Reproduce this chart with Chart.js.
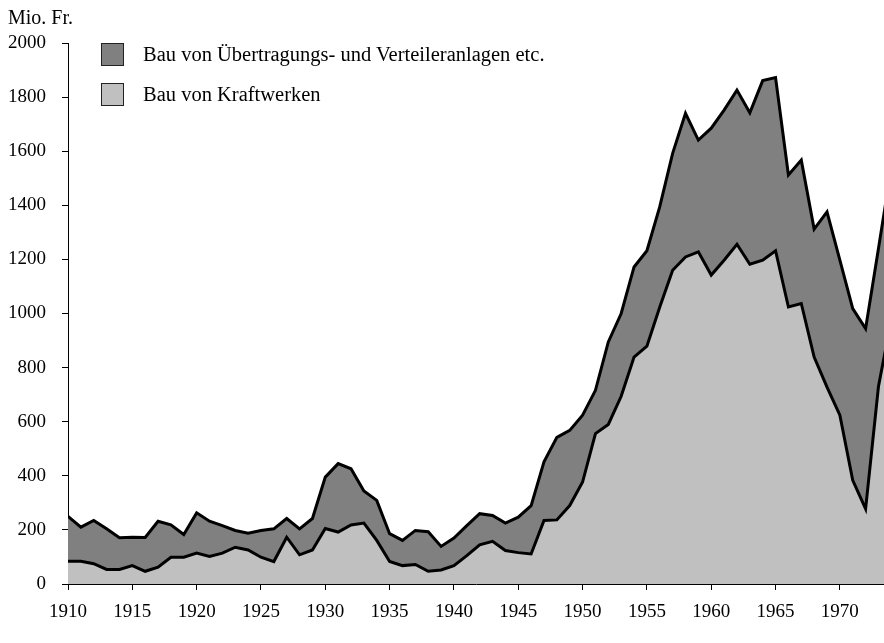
<!DOCTYPE html>
<html lang="de">
<head>
    <meta charset="UTF-8">
    <title>Bauinvestitionen Elektrizitätswirtschaft</title>
    <style>
        body {
            margin: 0;
            background: #fff;
        }
        #wrap {
            position: relative;
            width: 884px;
            height: 643px;
            font-family: 'Liberation Serif', serif;
            color: #000;
        }
        #unit {
            position: absolute;
            left: 8px;
            top: 6px;
            font-size: 20px;
            line-height: 22px;
        }
        .legend {
            position: absolute;
            left: 101px;
            display: flex;
            align-items: center;
            font-size: 20.5px;
            line-height: 23px;
            white-space: nowrap;
        }
        .legend .box {
            width: 21px;
            height: 21px;
            border: 1px solid #222;
            margin-right: 19px;
        }
    </style>
    <script src="https://cdn.jsdelivr.net/npm/chart.js"></script>
</head>
<body>
    <div id="wrap">
        <canvas id="chart" width="884" height="643"></canvas>
        <div id="unit">Mio. Fr.</div>
        <div class="legend" style="top: 43px;"><span class="box" style="background: #808080;"></span>Bau von Übertragungs- und Verteileranlagen etc.</div>
        <div class="legend" style="top: 83px;"><span class="box" style="background: #c0c0c0;"></span>Bau von Kraftwerken</div>
    </div>

    <script>
        const years = [
            1910, 1911, 1912, 1913, 1914, 1915, 1916, 1917, 1918, 1919,
            1920, 1921, 1922, 1923, 1924, 1925, 1926, 1927, 1928, 1929,
            1930, 1931, 1932, 1933, 1934, 1935, 1936, 1937, 1938, 1939,
            1940, 1941, 1942, 1943, 1944, 1945, 1946, 1947, 1948, 1949,
            1950, 1951, 1952, 1953, 1954, 1955, 1956, 1957, 1958, 1959,
            1960, 1961, 1962, 1963, 1964, 1965, 1966, 1967, 1968, 1969,
            1970, 1971, 1972, 1973, 1974
        ];

        // Bau von Kraftwerken (Mio. Fr.)
        const kraftwerke = [
            84, 84, 75, 54, 54, 68, 47, 62, 99, 99,
            114, 102, 114, 136, 126, 99, 83, 173, 108, 126,
            205, 192, 218, 225, 161, 83, 68, 72, 47, 52,
            68, 105, 145, 158, 124, 116, 111, 235, 237, 290,
            377, 556, 590, 694, 839, 879, 1024, 1160, 1209, 1228,
            1142, 1197, 1256, 1182, 1197, 1232, 1024, 1037, 839, 728,
            624, 383, 278, 730, 980
        ];

        // Bau von Übertragungs- und Verteileranlagen etc. (Mio. Fr.)
        const uebertragung = [
            166, 126, 160, 150, 117, 105, 125, 170, 120, 84,
            149, 130, 102, 62, 62, 99, 121, 69, 96, 116,
            190, 253, 208, 119, 148, 103, 93, 126, 146, 87,
            102, 111, 115, 95, 101, 131, 179, 217, 305, 278,
            247, 160, 305, 306, 333, 353, 371, 432, 531, 413,
            543, 555, 570, 560, 664, 640, 488, 530, 473, 648,
            573, 635, 666, 510, 560
        ];

        function toPoints(values) {
            return years.map((year, i) => ({ x: year, y: values[i] }));
        }

        Chart.defaults.font.family = "'Liberation Serif', serif";
        Chart.defaults.font.size = 19;
        Chart.defaults.color = '#000';

        const axisGrid = {
            drawOnChartArea: false,
            drawTicks: true,
            tickLength: 6,
            color: '#000',
            lineWidth: 1
        };

        new Chart(document.getElementById('chart'), {
            type: 'line',
            data: {
                datasets: [
                    {
                        label: 'Bau von Kraftwerken',
                        data: toPoints(kraftwerke),
                        backgroundColor: '#c0c0c0',
                        borderColor: '#000',
                        borderWidth: 3,
                        borderJoinStyle: 'miter',
                        pointRadius: 0,
                        fill: 'origin'
                    },
                    {
                        label: 'Bau von Übertragungs- und Verteileranlagen etc.',
                        data: toPoints(uebertragung),
                        backgroundColor: '#808080',
                        borderColor: '#000',
                        borderWidth: 3,
                        borderJoinStyle: 'miter',
                        pointRadius: 0,
                        fill: '-1'
                    }
                ]
            },
            options: {
                responsive: false,
                animation: false,
                devicePixelRatio: 1,
                layout: {
                    padding: { top: 43, right: 0, bottom: 0, left: 0 }
                },
                plugins: {
                    legend: { display: false },
                    tooltip: { enabled: false }
                },
                scales: {
                    x: {
                        type: 'linear',
                        min: 1910,
                        max: 1973.43,
                        grid: axisGrid,
                        border: { display: true, color: '#000', width: 1 },
                        ticks: {
                            stepSize: 5,
                            includeBounds: false,
                            padding: 11,
                            maxRotation: 0,
                            callback: v => String(v)
                        },
                        afterFit: scale => { scale.height = 59; }
                    },
                    y: {
                        stacked: true,
                        min: 0,
                        max: 2000,
                        grid: axisGrid,
                        border: { display: true, color: '#000', width: 1 },
                        ticks: {
                            stepSize: 200,
                            padding: 16,
                            callback: v => String(v)
                        },
                        afterFit: scale => { scale.width = 68; }
                    }
                }
            }
        });
    </script>
</body>
</html>
